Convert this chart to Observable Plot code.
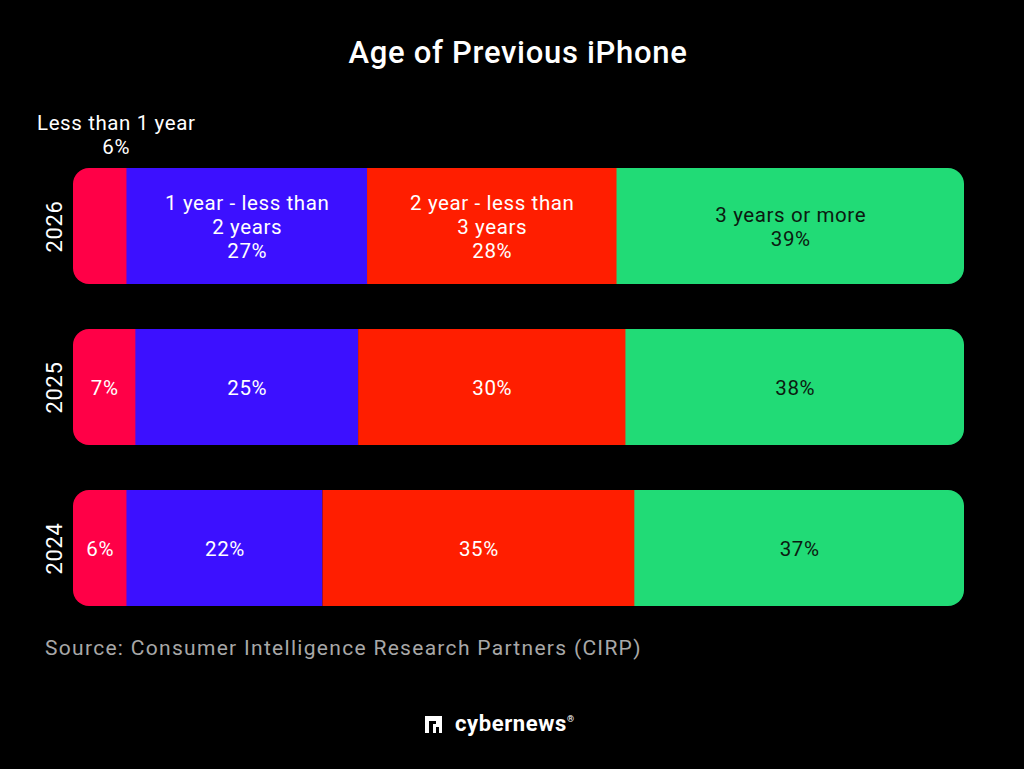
<!DOCTYPE html>
<html><head><meta charset="utf-8">
<script src="https://cdn.jsdelivr.net/npm/d3@7"></script>
<script src="https://cdn.jsdelivr.net/npm/@observablehq/plot@0.6"></script>
<style>
html,body{margin:0;padding:0;background:#000;}
body{width:1024px;height:769px;position:relative;overflow:hidden;font-family:Roboto,"Noto Sans",sans-serif;}
#title{position:absolute;left:6px;top:37px;width:1024px;text-align:center;color:#fff;font-size:31px;line-height:31px;font-weight:500;letter-spacing:0.7px;}
#chart{position:absolute;left:0;top:100px;}
#source{position:absolute;left:45px;top:638px;color:#a8a8a8;font-size:21px;line-height:21px;white-space:nowrap;letter-spacing:1.3px;}
#logo{position:absolute;left:425px;top:712px;height:24px;display:flex;align-items:center;color:#fff;}
#logo span.name{font-size:22px;font-weight:700;line-height:24px;margin-left:13px;letter-spacing:0.6px;}
#logo span.reg{font-size:9px;font-weight:700;align-self:flex-start;margin-left:0px;margin-top:2px;}
</style>
</head>
<body>
<div id="title">Age of Previous iPhone</div>
<div id="chart"></div>
<div id="source">Source: Consumer Intelligence Research Partners (CIRP)</div>
<div id="logo"><svg width="17" height="17" viewBox="0 0 17 17"><rect x="0" y="0" width="17" height="17" fill="#fff"/><path d="M4 17V5h7v3h-3v9z" fill="#000"/><rect x="11" y="11" width="3" height="6" fill="#000"/></svg><span class="name">cybernews</span><span class="reg">®</span></div>
<script>
// ---- data ----
const years = ["2026", "2025", "2024"];
const categories = ["Less than 1 year", "1 year - less than 2 years", "2 year - less than 3 years", "3 years or more"];
const categoryLabels = ["Less than 1 year", "1 year - less than\n2 years", "2 year - less than\n3 years", "3 years or more"];
const values2026 = [6, 27, 28, 39];
const values2025 = [7, 25, 30, 38];
const values2024 = [6, 22, 35, 37];
const colors = ["#FF0047", "#3C10FF", "#FF1E00", "#21DB76"];

// ---- build table ----
const byYear = {"2026": values2026, "2025": values2025, "2024": values2024};
const rows = [];
for (const yr of years) {
  let acc = 0;
  byYear[yr].forEach((v, i) => {
    rows.push({year: yr, cat: categories[i], idx: i, value: v, x1: acc, x2: acc + v, mid: acc + v / 2,
      label: yr === "2026" ? `${categoryLabels[i]}\n${v}%` : `${v}%`});
    acc += v;
  });
}
const first = rows.filter(d => d.idx === 0);
const last = rows.filter(d => d.idx === 3);
const middle = rows.filter(d => d.idx === 1 || d.idx === 2);
const inside = rows.filter(d => !(d.year === "2026" && d.idx === 0));
const outside = rows.filter(d => d.year === "2026" && d.idx === 0);

const chart = Plot.plot({
  width: 1024,
  height: 530,
  marginLeft: 73,
  marginRight: 60,
  marginTop: 0,
  marginBottom: 0,
  style: {background: "#000", fontFamily: "Roboto, 'Noto Sans', sans-serif", letterSpacing: "0.6px"},
  x: {domain: [0, 100], axis: null},
  y: {domain: years, range: [68, 506], paddingInner: 0.28, paddingOuter: 0, axis: null},
  color: {domain: categories, range: colors},
  marks: [
    Plot.barX(first, {x1: "x1", x2: "x2", y: "year", fill: "cat", rx: 16, insetRight: -24}),
    Plot.barX(last, {x1: "x1", x2: "x2", y: "year", fill: "cat", rx: 16, insetLeft: -24}),
    Plot.barX(middle, {x1: "x1", x2: "x2", y: "year", fill: "cat"}),
    Plot.text(inside, {x: "mid", y: "year", text: "label", fontSize: 20.5, lineHeight: 1.15,
      fill: d => d.idx === 3 ? "#0b1a10" : "#ffffff"}),
    Plot.text(outside, {x: "mid", y: "year", text: "label", fontSize: 20.5, lineHeight: 1.15,
      lineAnchor: "bottom", dy: -73, dx: 16, fill: "#ffffff"}),
    Plot.text(years, {x: 0, y: d => d, text: d => d, rotate: -90, dx: -19, fontSize: 22, fill: "#ffffff"})
  ]
});
document.getElementById("chart").appendChild(chart);
</script>
</body></html>
